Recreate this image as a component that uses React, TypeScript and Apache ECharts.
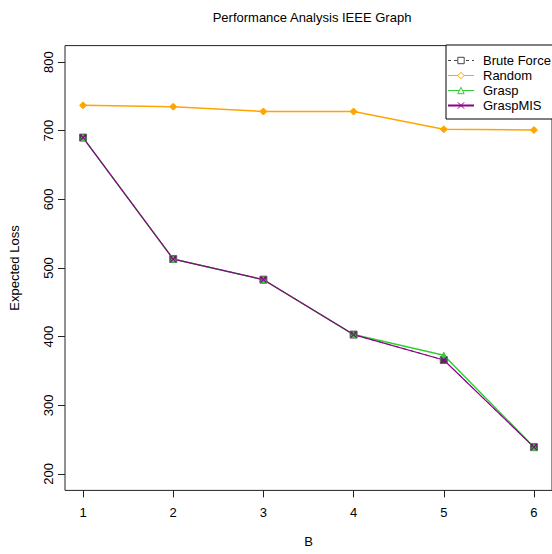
import React, { useEffect, useRef } from "react";
import * as echarts from "echarts";

const bValues = [1, 2, 3, 4, 5, 6];
const bruteForce = [690, 513, 483, 403, 366, 239];
const random = [737, 735, 728, 728, 702, 701];
const grasp = [690, 513, 483, 403, 373, 239];
const graspMIS = [690, 513, 483, 403, 366, 239];
const yTicks = [200, 300, 400, 500, 600, 700, 800];

const FONT = "Liberation Sans, Arial, sans-serif";
const pairs = (vals: number[]) => bValues.map((b, i) => [b, vals[i]]);

export default function App() {
  const ref = useRef<HTMLDivElement>(null);
  useEffect(() => {
    if (!ref.current) return;
    const chart = echarts.init(ref.current, undefined, { renderer: "svg" });
    chart.setOption({
      animation: false,
      backgroundColor: "#fff",
      title: {
        text: "Performance Analysis IEEE Graph",
        left: 307,
        top: 6,
        textAlign: "center",
        textStyle: { fontSize: 13, fontWeight: "normal", color: "#000", fontFamily: FONT },
      },
      legend: {
        orient: "vertical",
        left: 446,
        top: 45,
        width: 105,
        padding: [8, 4, 6, 1],
        itemGap: 0,
        itemWidth: 26,
        itemHeight: 8,
        backgroundColor: "#fff",
        borderColor: "#000",
        borderWidth: 1,
        borderRadius: 0,
        textStyle: { fontSize: 13, lineHeight: 15, color: "#000", fontFamily: FONT, padding: [0, 0, 0, 4] },
        data: [
          {
            name: "Brute Force",
            itemStyle: { color: "#fff", borderColor: "#444", borderWidth: 1 },
            lineStyle: { color: "#444", width: 1, type: [3, 3] },
          },
          {
            name: "Random",
            itemStyle: { color: "#fff", borderColor: "#FFA500", borderWidth: 1 },
            lineStyle: { color: "#FFA500", width: 1 },
          },
          {
            name: "Grasp",
            itemStyle: { color: "#fff", borderColor: "#32CD32", borderWidth: 1 },
            lineStyle: { color: "#32CD32", width: 1 },
          },
          { name: "GraspMIS", itemStyle: { borderWidth: 1 } },
        ],
      },
      grid: {
        left: 63,
        top: 45.6,
        width: 490,
        height: 444.8,
        show: true,
        borderColor: "#222",
        borderWidth: 1,
        backgroundColor: "transparent",
        containLabel: false,
      },
      xAxis: {
        type: "value",
        min: 0.8,
        max: 6.2,
        name: "B",
        nameLocation: "middle",
        nameGap: 45,
        nameTextStyle: { fontSize: 13, color: "#000", fontFamily: FONT },
        axisLine: { show: false },
        axisTick: { show: true, length: 7, lineStyle: { color: "#222" }, customValues: bValues },
        axisLabel: { color: "#000", fontSize: 13, fontFamily: FONT, margin: 16, customValues: bValues },
        splitLine: { show: false },
      },
      yAxis: {
        type: "value",
        min: 176,
        max: 824,
        name: "Expected Loss",
        nameLocation: "middle",
        nameGap: 44,
        nameTextStyle: { fontSize: 13, color: "#000", fontFamily: FONT },
        axisLine: { show: false },
        axisTick: { show: true, length: 7, lineStyle: { color: "#222" }, customValues: yTicks },
        axisLabel: { color: "#000", fontSize: 13, fontFamily: FONT, margin: 10, rotate: 90, customValues: yTicks },
        splitLine: { show: false },
      },
      series: [
        {
          name: "Brute Force",
          type: "line",
          data: pairs(bruteForce),
          symbol: "rect",
          symbolSize: 7,
          itemStyle: { color: "#444", borderColor: "#666", borderWidth: 1 },
          lineStyle: { color: "#444", width: 1, type: [4, 4] },
        },
        {
          name: "Random",
          type: "line",
          data: pairs(random),
          symbol: "diamond",
          symbolSize: 7,
          itemStyle: { color: "#FFA500", borderColor: "#FFA500", borderWidth: 1 },
          lineStyle: { color: "#FFA500", width: 1.5 },
        },
        {
          name: "Grasp",
          type: "line",
          data: pairs(grasp),
          symbol: "triangle",
          symbolSize: 6,
          itemStyle: { color: "#32CD32", borderColor: "#32CD32", borderWidth: 1 },
          lineStyle: { color: "#32CD32", width: 1.5 },
        },
        {
          name: "GraspMIS",
          type: "line",
          data: pairs(graspMIS),
          symbol: "path://M0,0L10,10M10,0L0,10",
          symbolSize: 6,
          itemStyle: { color: "#8B008B", borderColor: "#8B008B", borderWidth: 1.2 },
          lineStyle: { color: "#8B008B", width: 1.2 },
        },
      ],
    });
    return () => chart.dispose();
  }, []);
  return <div ref={ref} style={{ position: "fixed", left: 0, top: 0, width: 552, height: 554 }} />;
}
